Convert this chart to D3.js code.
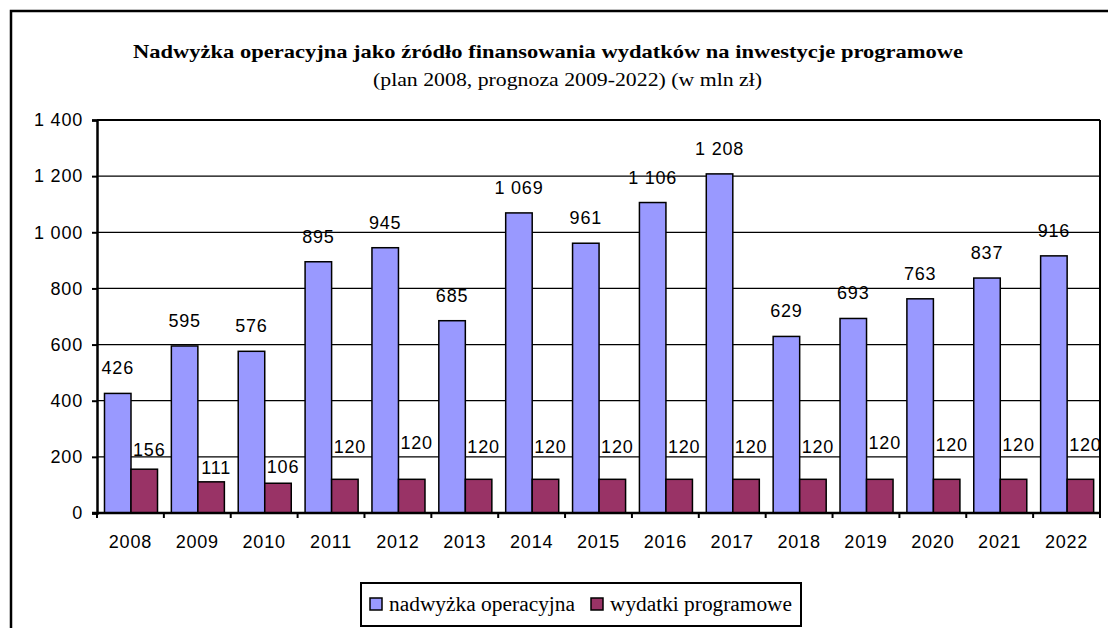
<!DOCTYPE html>
<html>
<head>
<meta charset="utf-8">
<script src="https://cdn.jsdelivr.net/npm/d3@7"></script>
<style>
  html, body { margin: 0; padding: 0; background: #fff; }
  svg { display: block; }
</style>
</head>
<body>
<svg id="chart" width="1108" height="628"></svg>
<script>
// ---- data ----
const years = ["2008","2009","2010","2011","2012","2013","2014","2015","2016","2017","2018","2019","2020","2021","2022"];
const nadwyzka = [426, 595, 576, 895, 945, 685, 1069, 961, 1106, 1208, 629, 693, 763, 837, 916];
const wydatki = [156, 111, 106, 120, 120, 120, 120, 120, 120, 120, 120, 120, 120, 120, 120];
const yTicks = [0, 200, 400, 600, 800, 1000, 1200, 1400];
const seriesNames = ["nadwyżka operacyjna", "wydatki programowe"];
const titleText = "Nadwyżka operacyjna jako źródło finansowania wydatków na inwestycje programowe";
const subtitleText = "(plan 2008, prognoza 2009-2022) (w mln zł)";
// label lift (pixels above bar top) for the second series, as placed in the original
const wydatkiLabelLift = [13, 8, 10, 26, 30, 26, 26, 26, 26, 26, 26, 30, 28, 28, 28];

const colors = ["#9999FF", "#993366"];

const svg = d3.select("#chart");
const fmt = d3.formatLocale({decimal: ",", thousands: "\u00a0", grouping: [3], currency: ["", ""]}).format(",d");

// outer frame
svg.append("rect").attr("x", 11).attr("y", 11).attr("width", 1300).attr("height", 800)
  .attr("fill", "#fff").attr("stroke", "#000").attr("stroke-width", 2.5);

const pLeft = 97, pRight = 1100, pTop = 120, pBottom = 513;

const x0 = d3.scaleBand().domain(years).range([pLeft, pRight]).paddingInner(0).paddingOuter(0);
const bw = x0.bandwidth();
const x1 = d3.scaleBand().domain([0, 1]).range([bw * 0.112, bw * 0.905]).padding(0);
const y = d3.scaleLinear().domain([0, 1400]).range([pBottom, pTop]);

const serif = "Liberation Serif, Times New Roman, serif";
// title
svg.append("text").attr("x", 133).attr("y", 58).attr("textLength", 830).attr("lengthAdjust", "spacingAndGlyphs")
  .attr("font-family", serif).attr("font-weight", "bold")
  .attr("font-size", 19.5).attr("fill", "#000").text(titleText);
svg.append("text").attr("x", 373).attr("y", 86).attr("textLength", 389).attr("lengthAdjust", "spacingAndGlyphs")
  .attr("font-family", serif)
  .attr("font-size", 19.5).attr("fill", "#000").text(subtitleText);

// grid lines
svg.append("g").selectAll("line").data(yTicks.filter(d => d > 0)).join("line")
  .attr("x1", pLeft).attr("x2", pRight).attr("y1", d => y(d)).attr("y2", d => y(d))
  .attr("stroke", "#000").attr("stroke-width", d => d === 1400 ? 2 : 1.3);

// plot right border
svg.append("line").attr("x1", pRight).attr("x2", pRight).attr("y1", pTop).attr("y2", pBottom)
  .attr("stroke", "#000").attr("stroke-width", 2);

// bars
const groups = svg.append("g").selectAll("g").data(years).join("g")
  .attr("transform", d => `translate(${x0(d)},0)`);
groups.each(function(yr, i) {
  const g = d3.select(this);
  const vals = [nadwyzka[i], wydatki[i]];
  g.selectAll("rect").data(vals).join("rect")
    .attr("x", (d, j) => x1(j)).attr("width", x1.bandwidth())
    .attr("y", d => y(d)).attr("height", d => y(0) - y(d))
    .attr("fill", (d, j) => colors[j]).attr("stroke", "#000").attr("stroke-width", 1.5);
});

// value labels
const labelFont = "Liberation Sans, Arial, sans-serif";
const lfs = 18, lsp = 0.8;
svg.append("g").selectAll("text").data(nadwyzka).join("text")
  .attr("x", (d, i) => x0(years[i]) + x1(0) + x1.bandwidth() / 2)
  .attr("y", d => y(d) - 19)
  .attr("text-anchor", "middle").attr("font-family", labelFont).attr("font-size", lfs).attr("letter-spacing", lsp)
  .text(d => fmt(d));
svg.append("g").selectAll("text").data(wydatki).join("text")
  .attr("x", (d, i) => x0(years[i]) + x1(1) + x1.bandwidth() / 2 + 5)
  .attr("y", (d, i) => y(d) - wydatkiLabelLift[i])
  .attr("text-anchor", "middle").attr("font-family", labelFont).attr("font-size", lfs).attr("letter-spacing", lsp)
  .text(d => fmt(d));

// y axis
const yAxis = d3.axisLeft(y).tickValues(yTicks).tickSize(5).tickPadding(9).tickFormat(d => fmt(d));
const gy = svg.append("g").attr("transform", `translate(${pLeft},0)`).call(yAxis);
gy.select(".domain").attr("stroke", "#000").attr("stroke-width", 2.5);
gy.selectAll(".tick line").attr("stroke", "#000").attr("stroke-width", 2);
gy.selectAll(".tick text").attr("font-family", labelFont).attr("font-size", lfs).attr("letter-spacing", lsp).attr("fill", "#000");

// x axis
const xAxis = d3.axisBottom(x0).tickSize(0).tickPadding(22);
const gx = svg.append("g").attr("transform", `translate(0,${pBottom})`).call(xAxis);
gx.select(".domain").attr("stroke", "#000").attr("stroke-width", 2.5).attr("d", `M${pLeft - 5},0H${pRight}`);
gx.selectAll(".tick text").attr("font-family", labelFont).attr("font-size", lfs).attr("letter-spacing", lsp).attr("fill", "#000");
// boundary tick marks
svg.append("g").selectAll("line").data(years.concat(["end"])).join("line")
  .attr("x1", (d, i) => pLeft + i * bw).attr("x2", (d, i) => pLeft + i * bw)
  .attr("y1", pBottom).attr("y2", pBottom + 5)
  .attr("stroke", "#000").attr("stroke-width", 2);

// legend
const lg = svg.append("g");
lg.append("rect").attr("x", 361).attr("y", 583).attr("width", 440).attr("height", 43)
  .attr("fill", "#fff").attr("stroke", "#000").attr("stroke-width", 2);
const legendItems = [
  {sx: 370, tx: 389, tw: 186},
  {sx: 591, tx: 610, tw: 182}
];
legendItems.forEach((it, j) => {
  lg.append("rect").attr("x", it.sx).attr("y", 598).attr("width", 12).attr("height", 12)
    .attr("fill", colors[j]).attr("stroke", "#000").attr("stroke-width", 1.5);
  lg.append("text").attr("x", it.tx).attr("y", 611).attr("textLength", it.tw).attr("lengthAdjust", "spacingAndGlyphs")
    .attr("font-family", serif).attr("font-size", 20)
    .text(seriesNames[j]);
});
</script>
</body>
</html>
